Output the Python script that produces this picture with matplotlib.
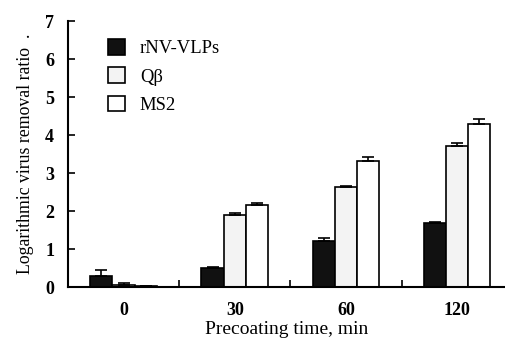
import matplotlib
matplotlib.use("Agg")
import matplotlib.pyplot as plt
import numpy as np

categories = ["0", "30", "60", "120"]
series_names = ["rNV-VLPs", "Qβ", "MS2"]
rnv = [0.30, 0.50, 1.20, 1.68]
rnv_err = [0.15, 0.03, 0.10, 0.03]
qb = [0.05, 1.90, 2.62, 3.70]
qb_err = [0.05, 0.05, 0.05, 0.10]
ms2 = [0.02, 2.15, 3.32, 4.30]
ms2_err = [0.00, 0.07, 0.11, 0.12]

plt.rcParams['font.family'] = ['Liberation Serif', 'DejaVu Serif']

fig = plt.figure(figsize=(5.06, 3.42), dpi=100)
ax = fig.add_axes([68/506, 1-287/342, 1-68/506, (287-21)/342])

x = np.arange(len(categories))
w = 0.2
colors = ['#111111', '#f3f3f3', 'white']
vals = [rnv, qb, ms2]
errs = [rnv_err, qb_err, ms2_err]
for i, (v, e, c, n) in enumerate(zip(vals, errs, colors, series_names)):
    pos = x + (i - 1) * w
    ax.bar(pos, v, width=w, color=c, edgecolor='black', linewidth=1.2, label=n, zorder=2)
    ax.errorbar(pos, v, yerr=[np.zeros(len(e)), e], fmt='none', ecolor='black',
                elinewidth=1.2, capsize=4, capthick=1.2, zorder=3)

ax.set_xlim(-0.5, 3.44)
ax.set_ylim(0, 7)
ax.set_xticks(x)
ax.set_xticklabels(categories)
ax.set_xticks([0.5, 1.5, 2.5], minor=True)
ax.tick_params(axis='x', which='major', length=0, labelsize=13, pad=11)
ax.tick_params(axis='x', which='minor', direction='in', length=5, width=1.2)
ax.set_yticks(range(8))
ax.tick_params(axis='y', direction='in', length=5, width=1.2, labelsize=13, pad=10)
for lab in ax.get_yticklabels() + ax.get_xticklabels():
    lab.set_fontweight('bold')
ax.spines['top'].set_visible(False)
ax.spines['right'].set_visible(False)
ax.spines['left'].set_linewidth(1.5)
ax.spines['bottom'].set_linewidth(1.5)

ax.set_xlabel("Precoating time, min", fontsize=14, labelpad=1)
ax.set_ylabel("Logarithmic virus removal ratio  .", fontsize=12.8, labelpad=8)

leg = ax.legend(loc='upper left', bbox_to_anchor=(0.075, 0.96), frameon=False,
                fontsize=13.4, handlelength=0.9, handleheight=0.9,
                handletextpad=0.8, labelspacing=0.55, borderaxespad=0)

fig.savefig("out.png", dpi=100)
